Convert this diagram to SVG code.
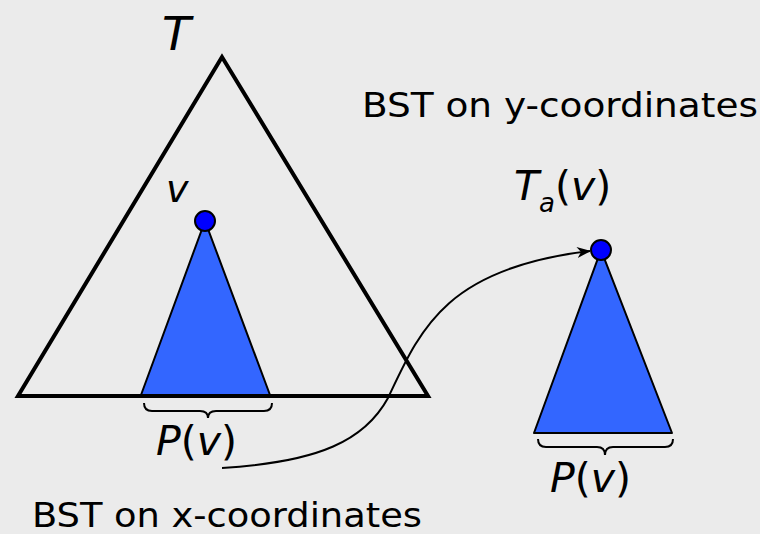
<svg xmlns="http://www.w3.org/2000/svg" width="760" height="534" viewBox="0 0 760 534">
<defs>
<marker id="arr" viewBox="0 0 14 11" refX="13" refY="5.5" markerWidth="14" markerHeight="11" markerUnits="userSpaceOnUse" orient="auto">
<path d="M0,0 L14,5.5 L0,11 L4,5.5 Z" fill="#000"/>
</marker>
<style>
.lbl{font-family:"DejaVu Sans",Verdana,sans-serif;fill:#000}
.cond{font-family:"DejaVu Sans Condensed","DejaVu Sans",sans-serif;font-stretch:condensed}
.it{font-style:italic}
.big{fill:none;stroke:#000;stroke-width:4;stroke-linejoin:miter}
.sub{fill:#3366FF;stroke:#000;stroke-width:2;stroke-linejoin:round}
.dot{fill:#0000FF;stroke:#000;stroke-width:2}
.brace{fill:none;stroke:#000;stroke-width:2}
.conn{fill:none;stroke:#000;stroke-width:2}
</style>
</defs>
<rect width="760" height="534" fill="#EBEBEB"/>
<g id="tree-T">
<polygon class="big" points="222,57 18,396 428,396"/>
<text class="lbl it" x="162" y="50" font-size="47">T</text>
</g>
<g id="subtree-v">
<polygon class="sub" points="205,221 141,395 270,395"/>
<circle class="dot" cx="205" cy="221" r="10"/>
<text class="lbl it" x="166" y="202" font-size="38">v</text>
<path class="brace" d="M144,403 Q144,411 152,411 L200,411 Q208,411 208,418 Q208,411 216,411 L264,411 Q272,411 272,403"/>
<text class="lbl" x="156" y="455" font-size="41"><tspan class="it">P</tspan>(<tspan class="it">v</tspan>)</text>
</g>
<g id="tree-Ta">
<polygon class="sub" points="601,250 534,433 672,433"/>
<circle class="dot" cx="601" cy="250" r="10"/>
<text class="lbl" x="514" y="200" font-size="41"><tspan class="it">T</tspan><tspan class="it" font-size="26" dy="12">a</tspan><tspan dy="-12">(</tspan><tspan class="it">v</tspan>)</text>
<path class="brace" d="M538,439 Q538,447 546,447 L597,447 Q605,447 605,455 Q605,447 613,447 L665,447 Q673,447 673,439"/>
<text class="lbl" x="550" y="492" font-size="41"><tspan class="it">P</tspan>(<tspan class="it">v</tspan>)</text>
</g>
<g id="label-y">
<text class="lbl cond" x="362" y="117" font-size="34" textLength="396" lengthAdjust="spacingAndGlyphs">BST on y-coordinates</text>
</g>
<g id="label-x">
<text class="lbl cond" x="32" y="527" font-size="34" textLength="390" lengthAdjust="spacingAndGlyphs">BST on x-coordinates</text>
</g>
<g id="connectors">
<path class="conn" marker-end="url(#arr)" d="M222,468 C320,462 365,440 388,398 C420,330 445,268 590,251"/>
</g>
</svg>
